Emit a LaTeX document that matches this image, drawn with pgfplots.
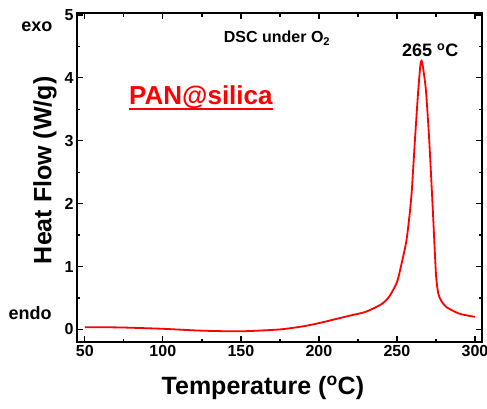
\documentclass[border=0pt]{standalone}
\usepackage{pgfplots}
\pgfplotsset{compat=1.18}
\usepackage{fontspec}
\setmainfont{Liberation Sans}
\begin{document}
\begin{tikzpicture}
\useasboundingbox (-77pt,-66pt) rectangle (410pt,342pt);
\begin{axis}[
  scale only axis, width=405pt, height=329pt,
  at={(0,0)}, anchor=south west,
  xmin=45, xmax=304.5, ymin=-0.2, ymax=5.03,
  xtick={50,100,...,300}, ytick={0,1,...,5},
  minor x tick num=1, minor y tick num=1,
  tick align=inside, tick pos=both,
  major tick length=6pt, minor tick length=3.5pt,
  axis line style={line width=1.8pt},
  every tick/.style={black, line width=1.3pt},
  /pgf/number format/assume math mode=true,
  ticklabel style={font=\fontsize{16}{16}\selectfont\bfseries},
  xlabel={Temperature (\textsuperscript{o}C)},
  ylabel={Heat Flow (W/g)},
  label style={font=\fontsize{25}{25}\selectfont\bfseries},
  xlabel style={at={(rel axis cs:0.459,-0.14)}, anchor=center},
  ylabel style={at={(rel axis cs:-0.079,0.522)}, anchor=center},
  clip=false,
]
\addplot[red, line width=1.8pt, smooth, tension=0.4] coordinates {
(50,0.035) (60,0.035) (75,0.03) (100,0.01) (125,-0.02) (150,-0.03)
(175,0.0) (190,0.05) (200,0.1) (210,0.16) (220,0.22) (230,0.28)
(240,0.4) (245,0.52) (250,0.75) (253,1.05) (256,1.4) (258,1.8)
(259.5,2.2) (261.5,3.0) (263.5,3.75) (265,4.2) (265.8,4.27)
(266.8,4.15) (268.6,3.79) (270.7,3.0) (272.9,1.94) (275,0.88)
(276.5,0.57) (278.5,0.45) (282,0.35) (290,0.25) (300,0.2)
};
\node[font=\fontsize{18}{18}\selectfont\bfseries] at (rel axis cs:-0.099,0.957) {exo};
\node[font=\fontsize{18}{18}\selectfont\bfseries] at (rel axis cs:-0.116,0.088) {endo};
\node[font=\fontsize{16}{16}\selectfont\bfseries] at (rel axis cs:0.494,0.924) {DSC under O\textsubscript{2}};
\node[font=\fontsize{18}{18}\selectfont\bfseries] at (rel axis cs:0.872,0.888) {265 \textsuperscript{o}C};
\node[font=\fontsize{26}{26}\selectfont\bfseries, text=red, inner sep=0pt] (pan) at (rel axis cs:0.306,0.745) {PAN@silica};
\draw[red, line width=1.8pt] ([yshift=-4.5pt]pan.base west) -- ([yshift=-4.5pt]pan.base east);
\end{axis}
\end{tikzpicture}
\end{document}
